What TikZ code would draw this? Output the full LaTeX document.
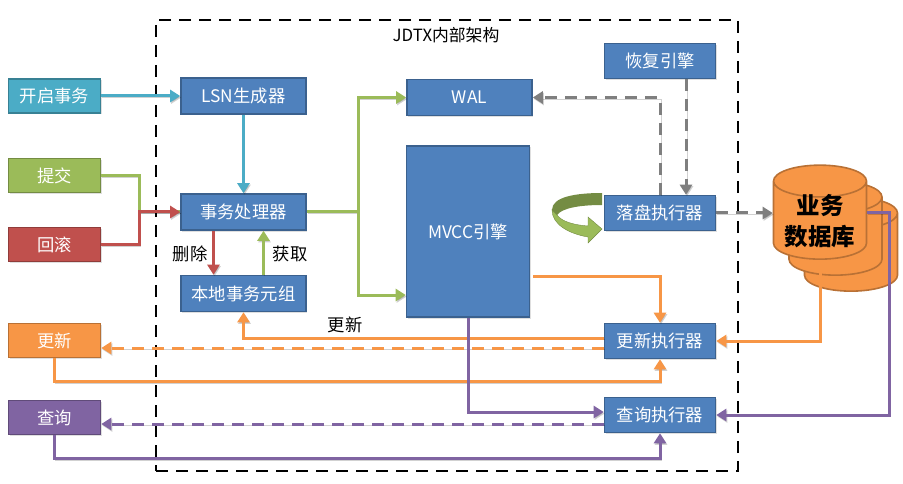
\documentclass[tikz,border=0pt]{standalone}
\usepackage{fontspec}
\setmainfont{Noto Sans CJK SC}
\usetikzlibrary{positioning,arrows.meta,shapes.geometric,shadows}
\definecolor{cblue}{HTML}{4F81BD}
\definecolor{ccyan}{HTML}{4BACC6}
\definecolor{cgreen}{HTML}{9BBB59}
\definecolor{cred}{HTML}{C0504D}
\definecolor{corange}{HTML}{F79646}
\definecolor{cpurple}{HTML}{8064A2}
\definecolor{cgray}{HTML}{7F7F7F}
\tikzset{
	box/.style={rectangle,fill=#1,draw=#1!75!black,line width=1.6pt,text=white,font=\fontsize{17.3}{19}\selectfont,inner sep=0pt,drop shadow={opacity=.25,shadow xshift=1pt,shadow yshift=-1.5pt}},
	extbox/.style={box=#1,minimum width=92pt,minimum height=34pt},
	inbox/.style={box=cblue,minimum width=125pt,minimum height=36pt},
	execbox/.style={box=cblue,minimum width=111pt,minimum height=35pt},
	dbcyl/.style={cylinder,shape border rotate=90,aspect=.53,draw=corange!75!black,fill=corange,line width=1.6pt,minimum width=93pt,minimum height=94pt,inner sep=0pt},
	link/.style={draw=#1,line width=3pt,-{Triangle[length=10pt,width=12pt]},preaction={draw=black,opacity=.18,transform canvas={xshift=1pt,yshift=-1.5pt}}},
	plain/.style={draw=#1,line width=3pt,preaction={draw=black,opacity=.18,transform canvas={xshift=1pt,yshift=-1.5pt}}},
	dlink/.style={link=#1,dash pattern=on 12pt off 8pt},
	label/.style={font=\fontsize{17.3}{19}\selectfont,inner sep=0pt}
}
\begin{document}
\begin{tikzpicture}[x=1pt,y=-1pt]
	\useasboundingbox (0,0) rectangle (903,484);
	% outer frame
	\node[draw,line width=2.6pt,dash pattern=on 12pt off 8pt,minimum width=582pt,minimum height=451pt,inner sep=0pt] (jdtx) at (447,245.5) {};
	\node[label,font=\fontsize{16.8}{18}\selectfont] (title) at (446,35) {JDTX内部架构};
	% left column
	\node[extbox=ccyan] (begintx) at (54.5,96) {开启事务};
	\node[extbox=cgreen] (commit) at (54.5,175.5) {提交};
	\node[extbox=cred] (rollback) at (54.5,244.5) {回滚};
	\node[extbox=corange] (update) at (54.5,340.5) {更新};
	\node[extbox=cpurple] (query) at (54.5,417.5) {查询};
	% inside the frame
	\node[inbox] (lsn) at (243.5,96) {LSN生成器};
	\node[inbox] (txproc) at (243.5,212) {事务处理器};
	\node[inbox] (tuple) at (243.5,293.5) {本地事务元组};
	\node[inbox] (wal) at (469.5,97.5) {WAL};
	\node[box=cblue,minimum width=123pt,minimum height=171pt] (mvcc) at (468,231.5) {MVCC引擎};
	\node[execbox] (recover) at (660,61) {恢复引擎};
	\node[execbox] (flush) at (660,213) {落盘执行器};
	\node[execbox] (updexec) at (660,341) {更新执行器};
	\node[execbox] (qryexec) at (660,415) {查询执行器};
	% database
	\node[dbcyl] (db3) at (851,252.5) {\rule{60pt}{0pt}};
	\node[dbcyl] (db2) at (835.5,236.5) {\rule{60pt}{0pt}};
	\node[dbcyl] (db) at (820,220.5) {\rule{60pt}{0pt}};
	\node[inner sep=0pt,align=center,font=\fontsize{23.5}{31}\selectfont\bfseries] (dbname) at (820,221) {业务\\数据库};
	\coordinate (dbout) at (db.east |- flush.east);
	% blue and red
	\draw[link=ccyan] (begintx) -- (lsn);
	\draw[link=ccyan] (lsn) -- (txproc);
	\draw[plain=cgreen] (commit.east) -- ++(38,0) |- (txproc.west);
	\draw[link=cred] (rollback.east) -- ++(38,0) |- (txproc.west);
	\draw[link=cred] ([xshift=-30pt]txproc.south) -- ([xshift=-30pt]tuple.north);
	\draw[link=cgreen] ([xshift=20pt]tuple.north) -- ([xshift=20pt]txproc.south);
	\node[label] (del) at (190,254) {删除};
	\node[label] (get) at (290,254) {获取};
	% green fork
	\coordinate (fork) at (358,212);
	\draw[plain=cgreen] (txproc.east) -- (fork);
	\draw[link=cgreen] (fork) |- (wal.west);
	\draw[link=cgreen] (fork) |- ([yshift=-63.5pt]mvcc.center -| mvcc.west);
	% gray
	\draw[dlink=cgray] (recover.south -| 686,0) -- (flush.north -| 686,0);
	\draw[dlink=cgray] (flush.north -| 660,0) |- (wal.east);
	\draw[dlink=cgray] (flush.east) -- (flush.east -| db.west);
	% turn arrow
	\fill[cgreen!75!black] (602,193) .. controls (575,193) and (552,197) .. (552,210) -- (557,215) .. controls (562,208) and (580,205) .. (602,205) -- cycle;
	\fill[cgreen,draw=cgreen!75!black] (552,210) .. controls (552,225) and (570,234) .. (588,237) -- (588,243) -- (602,229) -- (588,217) -- (588,226) .. controls (575,225) and (562,222) .. (557,215) -- cycle;
	% orange
	\draw[link=corange] ([xshift=3pt,yshift=-44.5pt]mvcc.center -| mvcc.east) -| (updexec.north);
	\draw[link=corange] ([yshift=3pt]updexec.west) -| (tuple.south);
	\draw[dlink=corange] ([yshift=-7pt]updexec.west) -- ([yshift=-7pt]updexec.west -| update.east);
	\draw[link=corange] (update.south) -- ++(0,23) -| (updexec.south);
	\draw[link=corange] (db.south) |- (updexec.east);
	\node[label] (upd) at (345,325) {更新};
	% purple
	\draw[link=cpurple] (mvcc.south) |- ([yshift=3pt]qryexec.west);
	\draw[dlink=cpurple] ([yshift=-9pt]qryexec.west) -- ([yshift=-9pt]qryexec.west -| query.east);
	\draw[link=cpurple] (query.south) -- ++(0,23) -| (qryexec.south);
	\draw[link=cpurple] (dbout) -- ++(22,0) |- (qryexec.east);
\end{tikzpicture}
\end{document}
